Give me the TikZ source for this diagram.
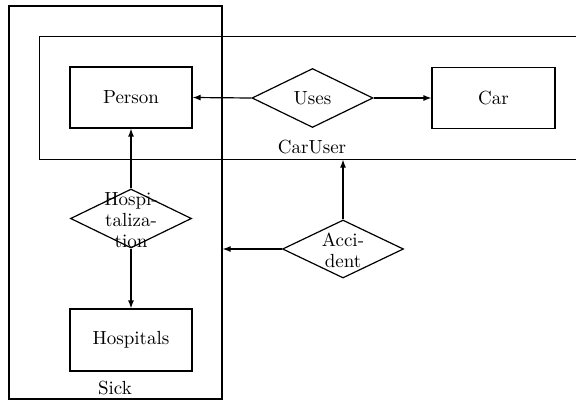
\documentclass[tikz,border=0pt]{standalone}
\usetikzlibrary{shapes.geometric,arrows.meta}
\begin{document}
\begin{tikzpicture}[x=0.5pt,y=-0.5pt,
  font=\fontsize{9.5}{10.5}\selectfont, line width=0.6pt,
  entity/.style={draw, rectangle, minimum width=61pt, minimum height=30.5pt, inner sep=0pt},
  rel/.style={draw, diamond, minimum width=60.5pt, minimum height=29.5pt, inner sep=0pt},
  lbl/.style={align=center, inner sep=0pt},
  container/.style={rectangle, inner sep=0pt},
  conn/.style={-{Latex[length=4pt,width=3pt]}}]
\useasboundingbox (0,0) rectangle (576,401);

% containers
\node[container, draw, minimum width=106.5pt, minimum height=196.5pt] (sick) at (115.5,202.5) {};
\node[container, minimum width=268pt, minimum height=61pt] (caruser) at (308,98) {};
\draw (caruser.north east) -- (caruser.north west) -- (caruser.south west) -- (caruser.south east);
\node[lbl] (sicklbl) at (115,388) {Sick};
\node[lbl] (caruserlbl) at (312,147) {CarUser};

% entities
\node[entity] (person) at (131,97.5) {Person};
\node[entity, minimum width=61.5pt] (car) at (493.5,98) {Car};
\node[entity, minimum height=31pt] (hosp) at (131,340) {Hospitals};

% relationships
\node[rel] (uses) at (312.5,98) {};
\node[lbl] (useslbl) at (uses.center) {Uses};
\node[rel] (hz) at (131,218.5) {};
\node[lbl] (hzlbl) at (131,220) {Hospi-\\taliza-\\tion};
\node[rel, minimum height=29pt] (acc) at (343,249) {};
\node[lbl] (acclbl) at (343,250) {Acci-\\dent};

% connectors
\draw[conn] (uses.west) -- (person.east);
\draw[conn] (uses.east) -- (car.west);
\draw[conn] (hz.north) -- (person.south);
\draw[conn] (hz.south) -- (hosp.north);
\draw[conn] (acc.north) -- (acc.north |- caruser.south);
\draw[conn] (acc.west) -- (acc.west -| sick.east);
\end{tikzpicture}
\end{document}
